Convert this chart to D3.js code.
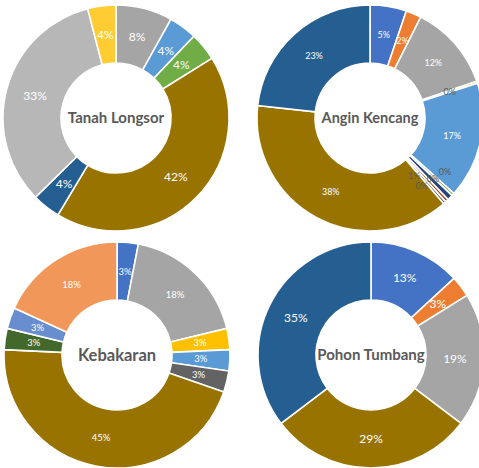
<!DOCTYPE html>
<html>
<head>
<meta charset="utf-8">
<script src="https://cdn.jsdelivr.net/npm/d3@7"></script>
<style>
  body { margin: 0; background: #fff; }
  svg { display: block; font-family: Lato, "Open Sans", sans-serif; }
</style>
</head>
<body>
<div id="chart"></div>
<script>
// Excel colour order, one entry per category
const palette = ["#4472C4", "#ED7D31", "#A5A5A5", "#FFC000", "#5B9BD5", "#70AD47",
  "#264478", "#9E480E", "#636363", "#997300", "#255E91", "#43682B",
  "#698ED0", "#F1975A", "#B7B7B7", "#FFCD33"];

const titles = ["Tanah Longsor", "Angin Kencang", "Kebakaran", "Pohon Tumbang"];

// share of each category (percent), 0 = not in this chart
const tanahLongsor = [0, 0, 8, 0, 4, 4, 0, 0, 0, 42, 4, 0, 0, 0, 33, 4];
const anginKencang = [5.2, 2.2, 12.3, 0.3, 16.6, 0.4, 0.8, 0.45, 0.4, 38, 23.2, 0, 0, 0, 0, 0];
const kebakaran    = [3, 0, 18, 3, 3, 0, 0, 0, 3, 45, 0, 3, 3, 18, 0, 0];
const pohonTumbang = [13, 3, 19, 0, 0, 0, 0, 0, 0, 29, 35, 0, 0, 0, 0, 0];

const width = 479, height = 468;

const svg = d3.select("#chart")
  .append("svg")
  .attr("width", width)
  .attr("height", height);

const charts = [
  {values: tanahLongsor, cx: 116, cy: 118, titleSize: 15, labelSize: 12},
  {values: anginKencang, cx: 370, cy: 118, titleSize: 14.5, labelSize: 9},
  {values: kebakaran,    cx: 117, cy: 355, titleSize: 16.5, labelSize: 9.5},
  {values: pohonTumbang, cx: 371, cy: 355, titleSize: 15, labelSize: 12}
];

const outerR = 113, innerR = 55;

const pie = d3.pie().sort(null).value(d => d.v);
const arc = d3.arc().innerRadius(innerR).outerRadius(outerR);
const labelArc = d3.arc().innerRadius((innerR + outerR) / 2).outerRadius((innerR + outerR) / 2);

// push overlapping labels apart sideways (earlier slice goes right)
function spread(pos, w, h) {
  for (let it = 0; it < 30; it++) {
    for (let a = 0; a < pos.length; a++) {
      for (let b = a + 1; b < pos.length; b++) {
        const p = pos[a], q = pos[b];
        const ox = w - Math.abs(p[0] - q[0]), oy = h - Math.abs(p[1] - q[1]);
        if (ox > 0 && oy > 0) {
          const dir = p[0] >= q[0] ? 1 : -1;
          p[0] += dir * ox / 2 + dir * 0.3;
          q[0] -= dir * ox / 2 + dir * 0.3;
          p[1] -= oy / 4;
          q[1] += oy / 4;
        }
      }
    }
  }
}

charts.forEach((c, i) => {
  const total = d3.sum(c.values);
  const data = c.values.map((v, k) => ({v: v, color: palette[k]})).filter(d => d.v > 0);

  const g = svg.append("g")
    .attr("transform", `translate(${c.cx},${c.cy})`);

  const slices = pie(data);

  g.selectAll("path")
    .data(slices)
    .join("path")
      .attr("d", arc)
      .attr("fill", d => d.data.color)
      .attr("stroke", "#fff")
      .attr("stroke-width", 1.6);

  const pos = slices.map(d => labelArc.centroid(d));
  spread(pos, c.labelSize * 1.25, c.labelSize * 0.9);

  g.selectAll("text.lbl")
    .data(slices)
    .join("text")
      .attr("class", "lbl")
      .attr("transform", (d, k) => `translate(${pos[k]})`)
      .attr("text-anchor", "middle")
      .attr("dy", "0.35em")
      .attr("font-size", c.labelSize)
      .attr("fill", d => d.data.v < 1 ? "#595959" : "#fff")
      .text(d => Math.round(d.data.v / total * 100) + "%");

  g.append("text")
    .attr("text-anchor", "middle")
    .attr("dy", "0.35em")
    .attr("font-size", c.titleSize)
    .attr("font-weight", "bold")
    .attr("fill", "#595959")
    .text(titles[i]);
});
</script>
</body>
</html>
